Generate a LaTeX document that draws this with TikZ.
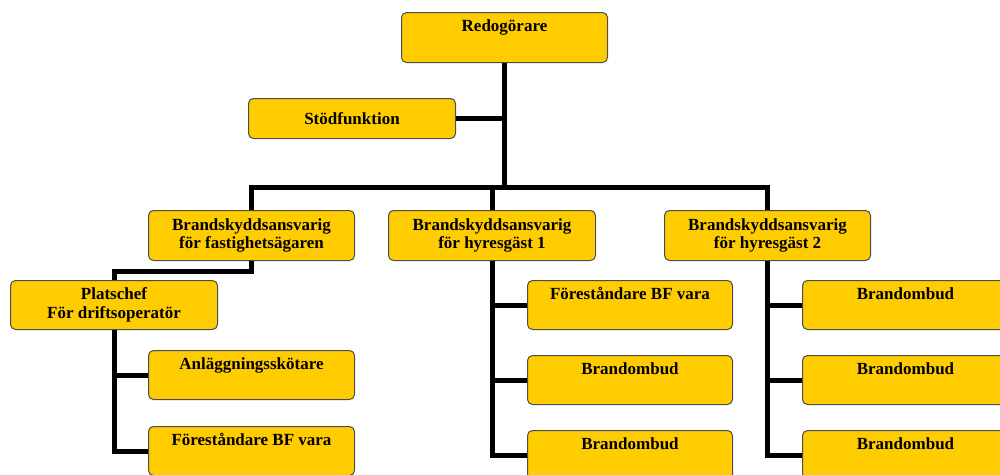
\documentclass[tikz,border=0pt]{standalone}
\usepackage{fontspec}
\setmainfont{Liberation Serif}
\definecolor{boxyellow}{HTML}{FFCC00}
\begin{document}
\begin{tikzpicture}[x=1pt,y=-1pt,
  box/.style={draw=black!70, line width=1pt, fill=boxyellow, rounded corners=5pt,
    inner sep=0pt, anchor=north west, align=center,
    font=\bfseries\fontsize{17}{18.5}\selectfont},
  topbox/.style={box, minimum width=206pt, minimum height=49pt, text height=19pt, text depth=30pt},
  midbox/.style={box, minimum width=206pt, minimum height=50pt},
  link/.style={line width=5pt, line join=miter}]
\useasboundingbox (0,0) rectangle (1000,474);
\clip (0,0) rectangle (1000,474);

\node[topbox, minimum width=206pt, minimum height=50pt, text depth=31pt] (top) at (401,12) {Redogörare};
\node[box, minimum width=207pt, minimum height=40pt] (stod) at (248,98) {Stödfunktion};

\node[midbox] (b1) at (148,210) {Brandskyddsansvarig\\för fastighetsägaren};
\node[midbox, minimum width=207pt] (b2) at (388,210) {Brandskyddsansvarig\\för hyresgäst 1};
\node[midbox] (b3) at (664,210) {Brandskyddsansvarig\\för hyresgäst 2};

\node[box, minimum width=207pt, minimum height=49pt] (plat) at (10,280) {Platschef\\För driftsoperatör};
\node[topbox] (a1) at (148,350) {Anläggningsskötare};
\node[topbox] (a2) at (148,426) {Föreståndare BF vara};

\node[topbox, minimum width=205pt] (m1) at (527,280) {Föreståndare BF vara};
\node[topbox, minimum width=205pt] (m2) at (527,355) {Brandombud};
\node[topbox, minimum width=205pt] (m3) at (527,430) {Brandombud};

\node[topbox] (r1) at (802,280) {Brandombud};
\node[topbox] (r2) at (802,355) {Brandombud};
\node[topbox] (r3) at (802,430) {Brandombud};

\coordinate (bus) at (0,187);

\draw[link] (top.south) -- (top.south |- bus);
\draw[link] (stod.east) -- (stod.east -| top.south);
\draw[link] (b1.north) -- (b1.north |- bus) -- (b3.north |- bus) -- (b3.north);
\draw[link] (b2.north) -- (b2.north |- bus);

\draw[link] (b1.south) -- ++(0,10) -| (plat.north);
\draw[link] (plat.south) |- (a2.west);
\draw[link] (plat.south |- a1.west) -- (a1.west);

\draw[link] (b2.south) |- (m3.west);
\draw[link] (b2.south |- m1.west) -- (m1.west);
\draw[link] (b2.south |- m2.west) -- (m2.west);

\draw[link] (b3.south) |- (r3.west);
\draw[link] (b3.south |- r1.west) -- (r1.west);
\draw[link] (b3.south |- r2.west) -- (r2.west);
\end{tikzpicture}
\end{document}
